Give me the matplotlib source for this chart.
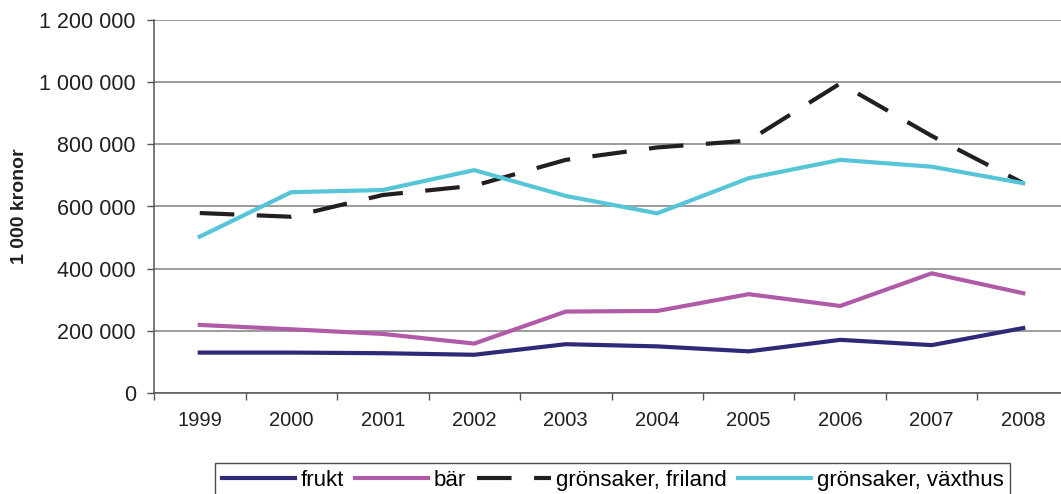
import matplotlib.pyplot as plt
from matplotlib.ticker import FixedLocator, FuncFormatter

plt.rcParams['font.family'] = ['Liberation Sans', 'DejaVu Sans']

# Data (1000 kronor)
years = ['1999', '2000', '2001', '2002', '2003', '2004', '2005', '2006', '2007', '2008']
frukt = [130000, 130000, 128000, 123000, 157000, 150000, 134000, 171000, 154000, 209000]
bar = [219000, 205000, 190000, 159000, 262000, 264000, 318000, 280000, 385000, 321000]
friland = [579000, 567000, 637000, 667000, 750000, 790000, 812000, 996000, 827000, 675000]
vaxthus = [503000, 646000, 653000, 717000, 634000, 578000, 691000, 750000, 728000, 675000]

x = list(range(len(years)))

fig = plt.figure(figsize=(10.61, 4.94), dpi=100)
ax = fig.add_axes([154 / 1061, 1 - 393 / 494, 915 / 1061, 373 / 494])

ax.plot(x, frukt, color='#2e2a78', lw=3, label='frukt', solid_joinstyle='miter')
ax.plot(x, bar, color='#b05ba8', lw=3, label='bär', solid_joinstyle='miter')
ax.plot(x, friland, color='#231f20', lw=3, linestyle=(0, (8.3, 5.4)),
        label='grönsaker, friland', dash_joinstyle='miter')
ax.plot(x, vaxthus, color='#56c5d8', lw=3, label='grönsaker, växthus', solid_joinstyle='miter')

ax.set_xlim(-0.5, 9.5)
ax.set_ylim(0, 1200000)
ax.set_yticks(range(0, 1200001, 200000))
ax.yaxis.set_major_formatter(FuncFormatter(lambda v, p: f'{v:,.0f}'.replace(',', ' ')))
ax.grid(axis='y', color='#808080', lw=1.1)
ax.set_axisbelow(True)

ax.set_xticks(x)
ax.set_xticklabels(years)
ax.xaxis.set_minor_locator(FixedLocator([i + 0.5 for i in range(-1, 10)]))
ax.tick_params(axis='x', which='major', length=0, pad=13, labelsize=14.5, colors='#231f20')
ax.tick_params(axis='x', which='minor', length=5, width=1, color='#555555', direction='out')
ax.tick_params(axis='y', length=5, width=1, color='#555555', pad=8, labelsize=15.5,
               labelcolor='#231f20')

for s in ['top', 'right']:
    ax.spines[s].set_visible(False)
for s in ['left', 'bottom']:
    ax.spines[s].set_color('#555555')
    ax.spines[s].set_linewidth(1.1)

ax.set_ylabel('1 000 kronor', fontsize=14, fontweight='bold', labelpad=8, color='#231f20')

leg = fig.legend(loc='upper left', bbox_to_anchor=(215 / 1061, 1 - 463 / 494), ncol=4,
                 fontsize=16, frameon=True, fancybox=False, edgecolor='#231f20',
                 handlelength=3.3, handletextpad=0.25, columnspacing=0.5,
                 borderpad=0.3, borderaxespad=0)
leg.get_frame().set_linewidth(1)

fig.savefig('out.png', dpi=100)
